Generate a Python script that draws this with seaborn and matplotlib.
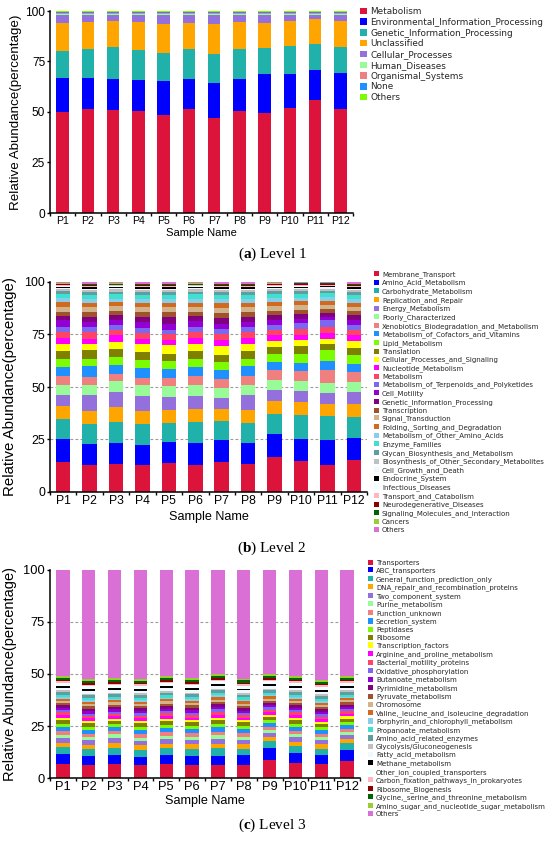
import numpy as np
import pandas as pd
import matplotlib
matplotlib.use("Agg")
import matplotlib.pyplot as plt
from matplotlib.patches import Patch
from matplotlib.ticker import FixedLocator
import seaborn as sns

# ---------------- data ----------------
samples = ["P1", "P2", "P3", "P4", "P5", "P6", "P7", "P8", "P9", "P10", "P11", "P12"]

# Level 1 (per category, one value per sample, %)
level1_categories = ["Metabolism", "Environmental_Information_Processing",
                     "Genetic_Information_Processing", "Unclassified",
                     "Cellular_Processes", "Human_Diseases", "Organismal_Systems",
                     "None", "Others"]
l1_metabolism = [49.9, 51.4, 51.1, 50.4, 48.3, 51.4, 47.1, 50.7, 49.3, 52.1, 56.0, 51.6]
l1_environmental = [16.9, 15.4, 15.3, 15.4, 16.8, 15.0, 17.4, 15.7, 19.3, 16.7, 14.6, 17.7]
l1_genetic = [13.5, 14.4, 15.7, 14.9, 14.1, 14.6, 14.0, 14.6, 12.9, 13.7, 13.2, 12.8]
l1_unclassified = [13.6, 13.5, 13.1, 13.7, 14.4, 13.2, 14.9, 13.5, 12.5, 12.7, 12.1, 12.8]
l1_cellular = [4.1, 3.3, 2.8, 3.6, 4.4, 3.8, 4.6, 3.5, 4.0, 2.8, 2.1, 3.1]
l1_human = [0.6, 0.6, 0.6, 0.6, 0.6, 0.6, 0.6, 0.6, 0.6, 0.6, 0.6, 0.6]
l1_organismal = [0.5, 0.5, 0.5, 0.5, 0.5, 0.5, 0.5, 0.5, 0.5, 0.5, 0.5, 0.5]
l1_none = [0.5, 0.5, 0.5, 0.5, 0.5, 0.5, 0.5, 0.5, 0.5, 0.5, 0.5, 0.5]
l1_others = [0.4, 0.4, 0.4, 0.4, 0.4, 0.4, 0.4, 0.4, 0.4, 0.4, 0.4, 0.4]

# Level 2 (per sample, one value per category, %)
level2_categories = ["Membrane_Transport", "Amino_Acid_Metabolism", "Carbohydrate_Metabolism",
                     "Replication_and_Repair", "Energy_Metabolism", "Poorly_Characterized",
                     "Xenobiotics_Biodegradation_and_Metabolism",
                     "Metabolism_of_Cofactors_and_Vitamins", "Lipid_Metabolism", "Translation",
                     "Cellular_Processes_and_Signaling", "Nucleotide_Metabolism", "Metabolism",
                     "Metabolism_of_Terpenoids_and_Polyketides", "Cell_Motility",
                     "Genetic_Information_Processing", "Transcription", "Signal_Transduction",
                     "Folding,_Sorting_and_Degradation", "Metabolism_of_Other_Amino_Acids",
                     "Enzyme_Families", "Glycan_Biosynthesis_and_Metabolism",
                     "Biosynthesis_of_Other_Secondary_Metabolites", "Cell_Growth_and_Death",
                     "Endocrine_System", "Infectious_Diseases", "Transport_and_Catabolism",
                     "Neurodegenerative_Diseases", "Signaling_Molecules_and_Interaction",
                     "Cancers", "Others"]
l2_P1 = [14.3, 10.8, 9.8, 6.0, 5.1, 5.1, 4.3, 4.1, 4.0, 3.6, 3.5, 2.7, 2.7, 2.6, 3.1, 2.1,
         2.1, 2.4, 2.0, 1.9, 2.0, 1.3, 1.1, 0.6, 0.5, 0.4, 0.5, 0.3, 0.3, 0.2, 0.6]
l2_P2 = [12.7, 10.0, 9.8, 6.1, 7.7, 4.8, 3.7, 5.0, 3.7, 4.0, 3.1, 2.4, 3.2, 2.4, 2.4, 2.3,
         2.3, 2.3, 2.0, 1.9, 2.1, 1.3, 1.1, 0.6, 0.5, 0.4, 0.5, 0.3, 0.3, 0.2, 0.9]
l2_P3 = [13.2, 10.1, 10.0, 7.2, 7.1, 5.1, 3.3, 4.6, 3.7, 4.0, 3.1, 3.2, 2.4, 2.4, 2.7, 2.0,
         2.0, 2.3, 1.9, 1.8, 2.0, 1.3, 1.1, 0.6, 0.5, 0.4, 0.5, 0.3, 0.3, 0.2, 0.7]
l2_P4 = [12.7, 9.8, 9.7, 6.4, 7.3, 4.9, 3.6, 4.8, 3.5, 4.0, 3.6, 2.7, 2.7, 2.4, 2.9, 2.3,
         2.2, 2.4, 2.0, 1.9, 2.1, 1.3, 1.1, 0.6, 0.5, 0.4, 0.5, 0.3, 0.3, 0.2, 0.9]
l2_P5 = [13.8, 10.0, 9.2, 6.2, 6.0, 5.1, 4.0, 4.1, 3.8, 3.7, 3.9, 2.7, 2.9, 1.9, 2.9, 3.1,
         2.3, 2.4, 2.0, 1.9, 2.0, 1.3, 1.1, 0.6, 0.5, 0.4, 0.5, 0.3, 0.3, 0.2, 0.9]
l2_P6 = [13.0, 10.3, 10.0, 6.4, 6.2, 4.9, 4.6, 4.1, 4.0, 3.5, 3.6, 2.7, 2.9, 2.4, 2.7, 2.4,
         2.2, 2.3, 2.0, 1.9, 2.0, 1.3, 1.1, 0.6, 0.5, 0.4, 0.5, 0.3, 0.3, 0.2, 0.7]
l2_P7 = [14.1, 10.5, 9.2, 5.9, 5.1, 4.9, 4.3, 3.9, 4.0, 3.2, 4.3, 2.8, 3.2, 2.1, 2.7, 2.7,
         2.4, 2.5, 2.0, 1.9, 2.1, 1.4, 1.1, 0.6, 0.5, 0.4, 0.5, 0.3, 0.3, 0.2, 0.9]
l2_P8 = [13.3, 10.2, 9.4, 6.3, 6.8, 5.1, 4.3, 4.4, 3.7, 3.5, 3.3, 3.0, 2.7, 2.6, 2.4, 2.3,
         2.2, 2.4, 2.0, 1.9, 2.1, 1.3, 1.1, 0.6, 0.5, 0.4, 0.5, 0.3, 0.3, 0.2, 0.9]
l2_P9 = [16.7, 10.8, 9.8, 5.9, 5.5, 4.5, 4.7, 4.0, 4.0, 3.1, 2.9, 3.0, 2.4, 2.4, 2.4, 2.3,
         2.0, 2.2, 1.9, 1.8, 2.0, 1.3, 1.0, 0.6, 0.5, 0.4, 0.5, 0.3, 0.3, 0.2, 0.6]
l2_P10 = [14.6, 10.8, 11.4, 6.1, 5.2, 4.6, 4.8, 3.9, 4.5, 3.5, 2.8, 2.7, 2.9, 2.7, 2.0, 2.4,
          1.9, 2.1, 1.9, 1.8, 1.9, 1.2, 1.0, 0.6, 0.5, 0.4, 0.5, 0.3, 0.3, 0.2, 0.5]
l2_P11 = [12.7, 11.9, 11.4, 6.1, 5.0, 4.8, 6.4, 4.1, 5.1, 3.1, 2.4, 2.7, 2.9, 3.1, 1.6, 1.9,
          1.8, 2.0, 1.9, 1.8, 1.9, 1.2, 1.0, 0.6, 0.5, 0.4, 0.5, 0.3, 0.3, 0.2, 0.4]
l2_P12 = [15.4, 10.3, 10.0, 6.0, 5.9, 4.8, 4.7, 4.0, 4.3, 3.3, 3.0, 2.9, 2.7, 2.4, 2.4, 2.0,
          2.0, 2.2, 1.9, 1.8, 2.0, 1.3, 1.0, 0.6, 0.5, 0.4, 0.5, 0.3, 0.3, 0.2, 0.9]

# Level 3 (per sample, one value per category, %)
level3_categories = ["Transporters", "ABC_transporters", "General_function_prediction_only",
                     "DNA_repair_and_recombination_proteins", "Two_component_system",
                     "Purine_metabolism", "Function_unknown", "Secretion_system", "Peptidases",
                     "Ribosome", "Transcription_factors", "Arginine_and_proline_metabolism",
                     "Bacterial_motility_proteins", "Oxidative_phosphorylation",
                     "Butanoate_metabolism", "Pyrimidine_metabolism", "Pyruvate_metabolism",
                     "Chromosome", "Valine,_leucine_and_isoleucine_degradation",
                     "Porphyrin_and_chlorophyll_metabolism", "Propanoate_metabolism",
                     "Amino_acid_related_enzymes", "Glycolysis/Gluconeogenesis",
                     "Fatty_acid_metabolism", "Methane_metabolism",
                     "Other_ion_coupled_transporters", "Carbon_fixation_pathways_in_prokaryotes",
                     "Ribosome_Biogenesis", "Glycine,_serine_and_threonine_metabolism",
                     "Amino_sugar_and_nucleotide_sugar_metabolism", "Others"]
l3_P1 = [6.9, 4.5, 3.5, 2.1, 2.3, 1.6, 1.6, 2.1, 1.6, 1.6, 1.1, 1.3, 1.3, 1.1, 1.1, 1.3,
         1.1, 1.0, 1.1, 0.8, 1.1, 1.3, 0.8, 1.3, 0.8, 1.4, 0.8, 0.7, 1.1, 0.8, 50.9]
l3_P2 = [6.4, 4.0, 3.7, 2.0, 2.0, 1.5, 1.6, 1.9, 1.6, 1.7, 1.1, 1.2, 1.2, 1.1, 1.1, 1.3,
         1.1, 1.0, 1.1, 0.8, 1.1, 1.3, 0.8, 1.3, 0.8, 1.4, 0.8, 0.7, 1.1, 0.8, 52.5]
l3_P3 = [6.9, 4.3, 3.4, 2.4, 2.4, 1.6, 1.5, 1.8, 1.5, 1.6, 1.1, 1.2, 1.2, 1.0, 1.1, 1.3,
         1.0, 1.0, 1.0, 0.8, 1.0, 1.2, 0.8, 1.3, 0.8, 1.4, 0.8, 0.7, 1.1, 0.8, 52.0]
l3_P4 = [6.1, 4.0, 3.5, 2.1, 2.1, 1.6, 1.6, 2.0, 1.6, 1.7, 1.1, 1.3, 1.3, 1.1, 1.1, 1.3,
         1.1, 1.0, 1.1, 0.8, 1.1, 1.3, 0.8, 1.3, 0.8, 1.4, 0.8, 0.7, 1.1, 0.8, 52.4]
l3_P5 = [6.6, 4.3, 3.5, 2.0, 2.2, 1.7, 1.6, 2.1, 1.7, 1.6, 1.1, 1.3, 1.4, 1.1, 1.2, 1.3,
         1.1, 1.0, 1.1, 0.8, 1.1, 1.3, 0.8, 1.4, 0.8, 1.4, 0.8, 0.7, 1.1, 0.8, 51.1]
l3_P6 = [6.4, 4.2, 3.5, 2.1, 2.1, 1.6, 1.6, 1.9, 1.6, 1.7, 1.1, 1.2, 1.3, 1.1, 1.1, 1.3,
         1.1, 1.0, 1.1, 0.8, 1.1, 1.3, 0.8, 1.3, 0.8, 1.4, 0.8, 0.7, 1.1, 0.8, 52.1]
l3_P7 = [6.4, 4.4, 3.6, 2.1, 2.3, 1.7, 1.7, 2.2, 1.7, 1.6, 1.2, 1.4, 1.6, 1.1, 1.2, 1.3,
         1.1, 1.1, 1.1, 0.9, 1.1, 1.3, 0.8, 1.4, 0.8, 1.4, 0.8, 0.7, 1.1, 0.8, 50.1]
l3_P8 = [6.4, 4.5, 3.2, 2.1, 2.1, 1.6, 1.6, 1.9, 1.6, 1.7, 1.1, 1.2, 1.2, 1.1, 1.1, 1.3,
         1.1, 1.0, 1.1, 0.8, 1.1, 1.3, 0.8, 1.3, 0.8, 1.4, 0.8, 0.7, 1.1, 0.8, 52.2]
l3_P9 = [8.8, 5.6, 3.3, 1.9, 1.9, 1.5, 1.6, 1.7, 1.5, 1.5, 1.1, 1.2, 1.3, 1.0, 1.1, 1.2,
         1.0, 1.0, 1.0, 0.8, 1.0, 1.2, 0.8, 1.3, 0.8, 1.4, 0.8, 0.7, 1.1, 0.8, 50.1]
l3_P10 = [7.4, 4.6, 3.4, 1.9, 2.2, 1.6, 1.6, 1.9, 1.6, 1.6, 1.1, 1.3, 1.3, 1.1, 1.1, 1.3,
          1.1, 1.0, 1.1, 0.8, 1.1, 1.3, 0.8, 1.3, 0.8, 1.4, 0.8, 0.7, 1.1, 0.8, 50.9]
l3_P11 = [6.6, 4.3, 3.2, 2.1, 2.0, 1.5, 1.5, 1.8, 1.6, 1.5, 1.0, 1.2, 1.2, 1.1, 1.1, 1.3,
          1.1, 1.0, 1.1, 0.8, 1.1, 1.3, 0.8, 1.3, 0.8, 1.4, 0.8, 0.7, 1.1, 0.8, 52.9]
l3_P12 = [8.2, 5.1, 3.6, 1.7, 1.9, 1.6, 1.6, 1.8, 1.5, 1.5, 1.1, 1.2, 1.2, 1.0, 1.1, 1.2,
          1.0, 1.0, 1.0, 0.8, 1.0, 1.2, 0.8, 1.3, 0.8, 1.4, 0.8, 0.7, 1.1, 0.8, 51.0]

yticks = [0, 25, 50, 75, 100]

# colours
palette31 = ["#DC143C", "#0000FF", "#20B2AA", "#FFA500", "#9370DB", "#98FB98", "#F08080",
             "#1E90FF", "#7CFC00", "#808000", "#FFFF00", "#FF00FF", "#FF4466", "#7B68EE",
             "#9400D3", "#800080", "#A0522D", "#D2B48C", "#D2691E", "#87CEEB", "#40E0D0",
             "#5F9EA0", "#C0C0C0", "#F0F8FF", "#000000", "#F0FFFF", "#FFB6C1", "#8B0000",
             "#006400", "#9ACD32", "#DA70D6"]
palette9 = palette31[:9]

# ---------------- build tables ----------------
def table_from_categories(cats, arrays):
    rows = []
    for cat, vals in zip(cats, arrays):
        for s, v in zip(samples, vals):
            rows.append((s, cat, v))
    return pd.DataFrame(rows, columns=["Sample", "Category", "Value"])


def table_from_samples(cats, arrays):
    rows = []
    for s, vals in zip(samples, arrays):
        for cat, v in zip(cats, vals):
            rows.append((s, cat, v))
    return pd.DataFrame(rows, columns=["Sample", "Category", "Value"])


df1 = table_from_categories(level1_categories,
                            [l1_metabolism, l1_environmental, l1_genetic, l1_unclassified,
                             l1_cellular, l1_human, l1_organismal, l1_none, l1_others])
df2 = table_from_samples(level2_categories,
                         [l2_P1, l2_P2, l2_P3, l2_P4, l2_P5, l2_P6, l2_P7, l2_P8, l2_P9,
                          l2_P10, l2_P11, l2_P12])
df3 = table_from_samples(level3_categories,
                         [l3_P1, l3_P2, l3_P3, l3_P4, l3_P5, l3_P6, l3_P7, l3_P8, l3_P9,
                          l3_P10, l3_P11, l3_P12])

# ---------------- style ----------------
sns.set_theme(style="ticks")
plt.rcParams["font.family"] = ["Liberation Sans", "DejaVu Sans"]
plt.rcParams["mathtext.fontset"] = "custom"
plt.rcParams["mathtext.rm"] = "Liberation Serif"
plt.rcParams["mathtext.bf"] = "Liberation Serif:bold"

fig = plt.figure(figsize=(5.5, 8.46), dpi=100)

W, H = 550.0, 846.0
def axes_px(left, right, top, bottom):
    return fig.add_axes([left / W, 1 - bottom / H, (right - left) / W, (bottom - top) / H])

panels = [
    dict(df=df1, cats=level1_categories, colors=palette9, box=(50, 353, 11, 213), shrink=0.5,
         grid=False, ylab=9.6, xlab=8.1, xtick=7.6, ytick=8.6, ylx=-0.092, xly=-0.075,
         leg=(360, 7.0), legfs=6.4, legsp=0.2, cap="($\\mathbf{a}$) Level 1", capy=254),
    dict(df=df2, cats=level2_categories, colors=palette31, box=(50, 367, 282, 492), shrink=0.55,
         grid=True, ylab=10.8, xlab=9.1, xtick=8.8, ytick=8.9, ylx=-0.104, xly=-0.09,
         leg=(374, 271.0), legfs=5.0, legsp=0.27, cap="($\\mathbf{b}$) Level 2", capy=548),
    dict(df=df3, cats=level3_categories, colors=palette31, box=(50, 360, 570, 778), shrink=0.52,
         grid=True, ylab=10.5, xlab=9.1, xtick=9.3, ytick=9.3, ylx=-0.106, xly=-0.083,
         leg=(368, 559.5), legfs=5.0, legsp=0.255, cap="($\\mathbf{c}$) Level 3", capy=825),
]

for p in panels:
    ax = axes_px(*p["box"])
    pal = dict(zip(p["cats"], p["colors"]))
    sns.histplot(data=p["df"], x="Sample", hue="Category", weights="Value",
                 multiple="stack", discrete=True, shrink=p["shrink"],
                 hue_order=p["cats"][::-1], palette=pal, alpha=1, linewidth=0,
                 edgecolor="none", legend=False, ax=ax)
    ax.set_xlim(-0.5, len(samples) - 0.5)
    ax.set_ylim(0, 100)
    ax.set_yticks(yticks)
    ax.set_yticklabels([str(t) for t in yticks])
    ax.set_xticks(range(len(samples)))
    ax.set_xticklabels(samples)
    ax.xaxis.set_minor_locator(FixedLocator(np.arange(len(samples) + 1) - 0.5))
    ax.tick_params(axis="x", which="major", length=0, pad=2.5, labelsize=p["xtick"], colors="black")
    ax.tick_params(axis="x", which="minor", length=2.5, width=1.0, direction="out", color="black")
    ax.tick_params(axis="y", which="major", length=2.5, width=1.0, pad=1, labelsize=p["ytick"], colors="black")
    for s in ["top", "right"]:
        ax.spines[s].set_visible(False)
    for s in ["left", "bottom"]:
        ax.spines[s].set_linewidth(1.1)
        ax.spines[s].set_color("black")
    ax.set_facecolor("white")
    if p["grid"]:
        ax.set_axisbelow(True)
        ax.yaxis.grid(True, linestyle=(0, (2.5, 2.0)), color="#9a9a9a", linewidth=0.8)
        for line, loc in zip(ax.yaxis.get_gridlines(), ax.get_yticks()):
            if loc in (0, 100):
                line.set_visible(False)
    else:
        ax.grid(False)
    ax.set_ylabel("Relative Abundance(percentage)", fontsize=p["ylab"], color="black")
    ax.set_xlabel("Sample Name", fontsize=p["xlab"], color="black")
    ax.yaxis.set_label_coords(p["ylx"], 0.5)
    ax.xaxis.set_label_coords(0.5, p["xly"])

    handles = [Patch(facecolor=c, edgecolor="none", label=n) for n, c in zip(p["cats"], p["colors"])]
    lx, ly = p["leg"]
    fig.legend(handles=handles, loc="upper left", bbox_to_anchor=(lx / W, 1 - ly / H),
               frameon=False, borderaxespad=0, borderpad=0,
               labelspacing=p["legsp"], handlelength=0.75, handleheight=0.75,
               handletextpad=0.4, prop={"family": "DejaVu Sans", "size": p["legfs"]})

    fig.text(0.495, 1 - p["capy"] / H, p["cap"], ha="center", va="center",
             fontsize=11, family="Liberation Serif", color="black")

fig.savefig("out.png", dpi=100, facecolor="white")
